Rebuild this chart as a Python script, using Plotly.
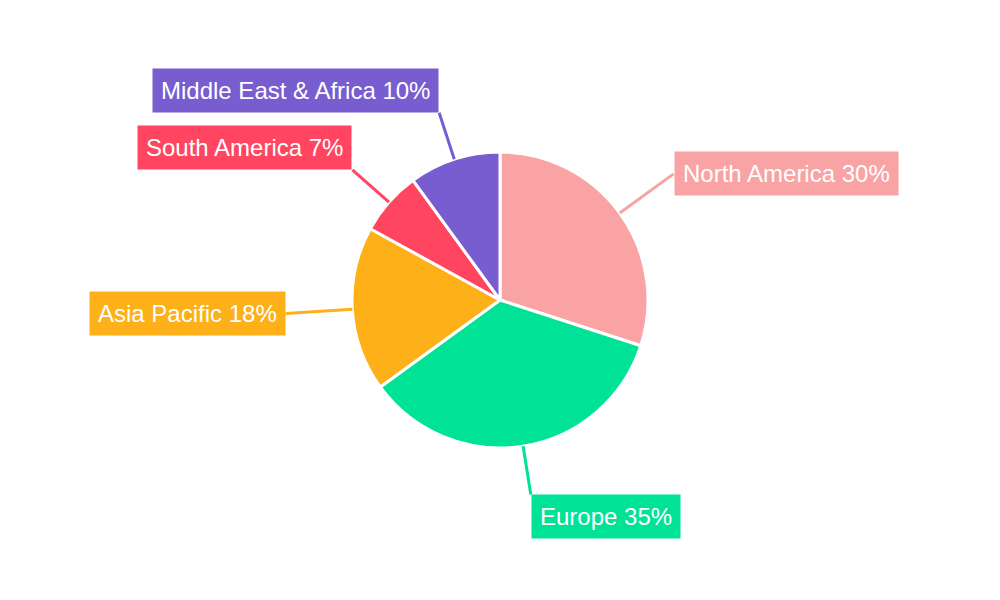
import math
import plotly.graph_objects as go

regions = ['North America', 'Europe', 'Asia Pacific', 'South America', 'Middle East & Africa']
shares = [30, 35, 18, 7, 10]
colors = ['#F9A3A4', '#00E396', '#FEB019', '#FF4560', '#775DD0']

W, H = 1000, 600
# the page adds an 8px body margin, so aim the centre 8px up/left
cx, cy, r = 492, 292, 148

fig = go.Figure(go.Pie(
    labels=regions, values=shares, sort=False, direction='clockwise', rotation=0,
    marker=dict(colors=colors, line=dict(color='white', width=3)),
    textinfo='none', hoverinfo='label+percent', showlegend=False,
    domain=dict(x=[(cx - r) / W, (cx + r) / W], y=[(H - cy - r) / H, (H - cy + r) / H]),
))

total = sum(shares)
start = 0
for name, v, c in zip(regions, shares, colors):
    mid = (start + v / 2) / total * 2 * math.pi
    start += v
    dx, dy = math.sin(mid), math.cos(mid)
    if abs(dy) > 0.62:
        ya = 'bottom' if dy > 0 else 'top'
        k = 1.33
    else:
        ya = 'middle'
        k = 1.45
    x0, y0 = cx + dx * r, cy - dy * r
    x1, y1 = cx + dx * r * k, cy - dy * r * k
    fig.add_shape(type='line', xref='paper', yref='paper',
                  x0=x0 / W, y0=1 - y0 / H, x1=x1 / W, y1=1 - y1 / H,
                  line=dict(color=c, width=3))
    fig.add_annotation(xref='paper', yref='paper', x=x1 / W, y=1 - y1 / H,
                       text=f'{name} {v}%', showarrow=False,
                       xanchor='left' if dx > 0 else 'right', yanchor=ya,
                       bgcolor=c, borderpad=8,
                       font=dict(family='Liberation Sans, Arial', size=24, color='white'))

fig.update_layout(width=W, height=H, margin=dict(l=0, r=0, t=0, b=0),
                  paper_bgcolor='white', plot_bgcolor='white')
fig.write_html('out.html')
